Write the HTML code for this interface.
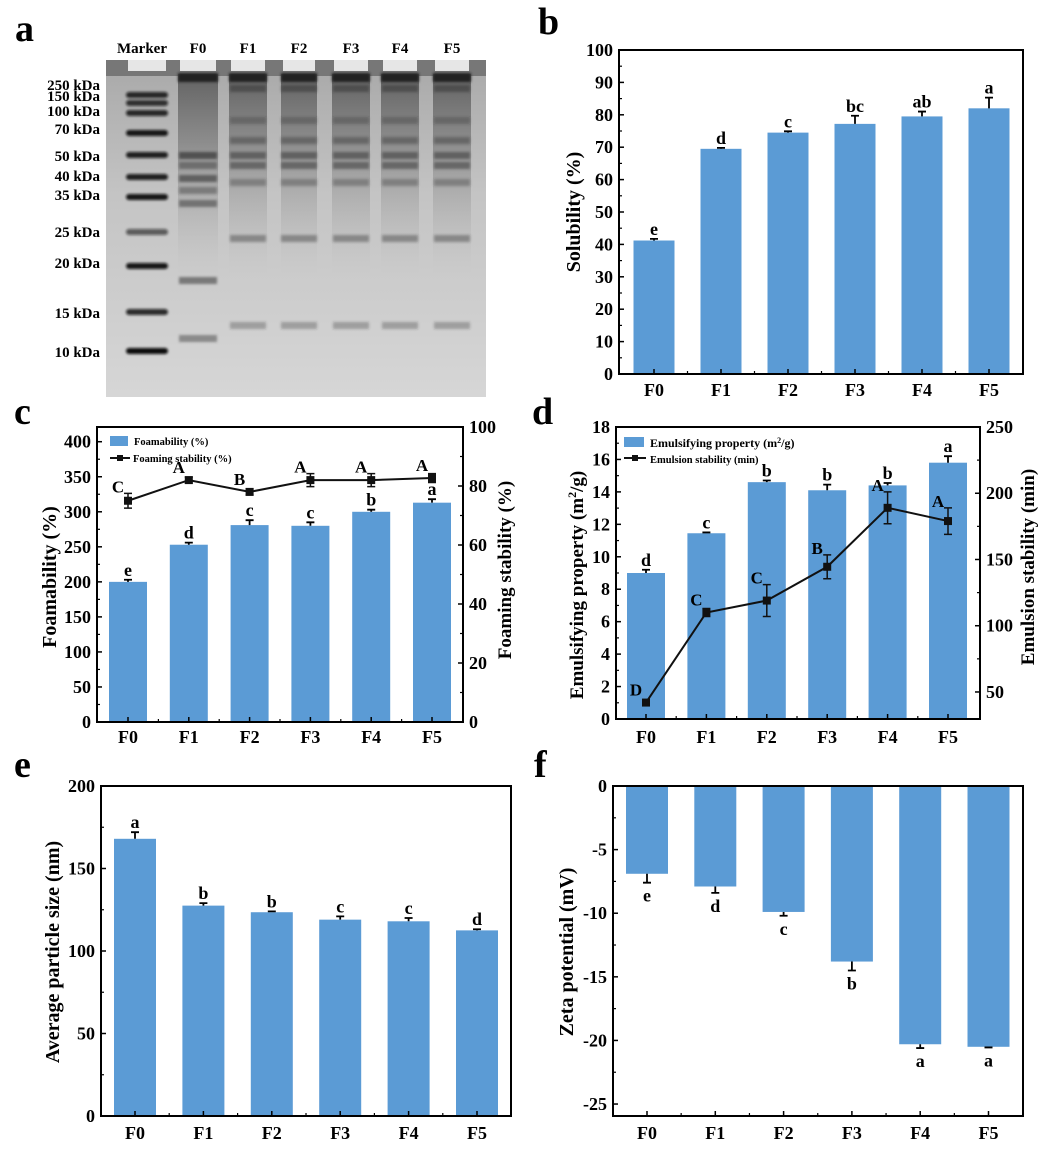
<!DOCTYPE html>
<html><head><meta charset="utf-8">
<style>
html,body{margin:0;padding:0;background:#fff;}
svg{display:block;font-family:"Liberation Serif",serif;font-weight:bold;}
</style></head>
<body>
<svg id="fig" width="1046" height="1152" viewBox="0 0 1046 1152" xmlns="http://www.w3.org/2000/svg">
<defs>
<filter id="blur1" x="-20%" y="-50%" width="140%" height="200%"><feGaussianBlur stdDeviation="1.3"/></filter>
<linearGradient id="gelbg" x1="0" y1="0" x2="0" y2="1">
<stop offset="0" stop-color="#a8a8a8"/><stop offset="0.4" stop-color="#c4c4c4"/><stop offset="1" stop-color="#d6d6d6"/></linearGradient>
<linearGradient id="smear" x1="0" y1="0" x2="0" y2="1">
<stop offset="0" stop-color="#555" stop-opacity="0.85"/><stop offset="0.35" stop-color="#707070" stop-opacity="0.6"/><stop offset="0.7" stop-color="#999" stop-opacity="0.3"/><stop offset="1" stop-color="#bbb" stop-opacity="0"/></linearGradient>
</defs>
<g id="gel"></g>
<g id="pb"></g>
<g id="pc"></g>
<g id="pd"></g>
<g id="pe"></g>
<g id="pf"></g>
</svg>
<script>
const categories = ["F0","F1","F2","F3","F4","F5"];
// b
const solubility = [41.2, 69.5, 74.5, 77.2, 79.5, 82.0];
const solubilityErr = [0.5, 0.3, 0.4, 2.5, 1.5, 3.3];
const solubilityLetters = ["e","d","c","bc","ab","a"];
const solubilityTicks = [0,10,20,30,40,50,60,70,80,90,100];
// c
const foamability = [200, 253, 281, 280, 300, 313];
const foamabilityErr = [3, 3, 7, 5, 3, 5];
const foamabilityLetters = ["e","d","c","c","b","a"];
const foamStability = [75, 82, 78, 82, 82, 82.7];
const foamStabilityErr = [2.5, 1, 1, 2.2, 2.2, 1.5];
const foamStabilityLetters = ["C","A","B","A","A","A"];
const foamTicksLeft = [0,50,100,150,200,250,300,350,400];
const foamTicksRight = [0,20,40,60,80,100];
// d
const emulsifying = [9.0, 11.45, 14.6, 14.1, 14.4, 15.8];
const emulsifyingErr = [0.2, 0.05, 0.1, 0.35, 0.15, 0.4];
const emulsifyingLetters = ["d","c","b","b","b","a"];
const emulsionStability = [42, 110, 119, 144.5, 189, 179];
const emulsionStabilityErr = [1.5, 3, 12, 9, 12, 10];
const emulsionStabilityLetters = ["D","C","C","B","A","A"];
const emulTicksLeft = [0,2,4,6,8,10,12,14,16,18];
const emulTicksRight = [50,100,150,200,250];
// e
const particleSize = [168, 127.5, 123.5, 119, 118, 112.5];
const particleSizeErr = [4, 1.5, 0.5, 2, 2, 0.7];
const particleLetters = ["a","b","b","c","c","d"];
const particleTicks = [0,50,100,150,200];
// f
const zeta = [-6.9, -7.9, -9.9, -13.8, -20.3, -20.5];
const zetaErr = [0.7, 0.5, 0.3, 0.7, 0.3, 0.05];
const zetaLetters = ["e","d","c","b","a","a"];
const zetaTicks = [0,-5,-10,-15,-20,-25];
// gel
const markerLabels = ["250 kDa","150 kDa","100 kDa","70 kDa","50 kDa","40 kDa","35 kDa","25 kDa","20 kDa","15 kDa","10 kDa"];
const laneLabels = ["Marker","F0","F1","F2","F3","F4","F5"];

const NS = "http://www.w3.org/2000/svg";
const BLUE = "#5b9bd5";
function el(parent, tag, attrs, text){
  const e = document.createElementNS(NS, tag);
  for (const k in attrs) e.setAttribute(k, attrs[k]);
  if (text !== undefined) e.textContent = text;
  parent.appendChild(e);
  return e;
}
function linY(dmin,dmax,top,bottom){ return v => bottom - (v-dmin)/(dmax-dmin)*(bottom-top); }

function frame(g, c){
  const f = el(g,"rect",{x:c.left,y:c.top,width:c.right-c.left,height:c.bottom-c.top,fill:"none",stroke:"#000","stroke-width":2});
  
  
}
function leftAxis(g, c, ys, ticks, minorStep, fmt){
  ticks.forEach(t=>{
    const y = ys(t);
    const tk = el(g,"line",{x1:c.left,x2:c.left+5,y1:y,y2:y,stroke:"#000","stroke-width":1.5});
    
    
    const lb = el(g,"text",{x:c.left-6,y:y+6,"text-anchor":"end","font-size":18},fmt?fmt(t):String(t));
    
    
    if (minorStep){
      const ym = ys(t+minorStep);
      if (ym>c.top+1 && ym<c.bottom-1){
        const mk = el(g,"line",{x1:c.left,x2:c.left+3,y1:ym,y2:ym,stroke:"#000","stroke-width":1.2});
        
        
      }
    }
  });
}
function rightAxis(g, c, ys, ticks, minorStep){
  ticks.forEach(t=>{
    const y = ys(t);
    const tk = el(g,"line",{x1:c.right-5,x2:c.right,y1:y,y2:y,stroke:"#000","stroke-width":1.5});
    
    
    const lb = el(g,"text",{x:c.right+6,y:y+6,"text-anchor":"start","font-size":18},String(t));
    
    
    const ym = ys(t+minorStep);
    if (ym>c.top+1 && ym<c.bottom-1){
      const mk = el(g,"line",{x1:c.right-3,x2:c.right,y1:ym,y2:ym,stroke:"#000","stroke-width":1.2});
      
      
    }
  });
}
function xAxis(g, c, xs, labelY){
  categories.forEach((cat,i)=>{
    const x = xs(i);
    const tk = el(g,"line",{x1:x,x2:x,y1:c.bottom,y2:c.bottom-5,stroke:"#000","stroke-width":1.5});
    
    
    if (i<categories.length-1){
      const mx = x + (xs(1)-xs(0))/2;
      const mk = el(g,"line",{x1:mx,x2:mx,y1:c.bottom,y2:c.bottom-3,stroke:"#000","stroke-width":1.2});
      
      
    }
    const lb = el(g,"text",{x:x,y:labelY,"text-anchor":"middle","font-size":18},cat);
    
    
  });
}
function yTitle(g, x, y, text, size){
  const t = el(g,"text",{x:0,y:0,"text-anchor":"middle","font-size":size||20,transform:`translate(${x},${y}) rotate(-90)`});
  
  
  return t;
}
function panelLetter(g,x,y,s){
  const t = el(g,"text",{x:x,y:y,"font-size":38},s);
  
  
}
function bars(g, c, xs, ys, vals, errs, letters, bw, below){
  vals.forEach((v,i)=>{
    const x = xs(i);
    const y0 = ys(0), y1 = ys(v);
    const r = el(g,"rect",{x:x-bw/2,y:Math.min(y0,y1),width:bw,height:Math.abs(y1-y0),fill:BLUE});
    
    
    const ye = below ? ys(v-errs[i]) : ys(v+errs[i]);
    const eb = el(g,"path",{d:`M${x},${y1}V${ye}M${x-4},${ye}H${x+4}`,stroke:"#000","stroke-width":1.8,fill:"none"});
    
    
    const ly = below ? ye+19 : ye-4;
    const lt = el(g,"text",{x:x,y:ly,"text-anchor":"middle","font-size":18},letters[i]);
    
    
  });
}
function line(g, xs, ys, vals, errs, letters){
  const d = vals.map((v,i)=>(i?"L":"M")+xs(i)+","+ys(v)).join("");
  const p = el(g,"path",{d:d,stroke:"#111","stroke-width":2,fill:"none"});
  
  
  vals.forEach((v,i)=>{
    const x=xs(i), y=ys(v), yt=ys(v+errs[i]), yb=ys(v-errs[i]);
    const eb = el(g,"path",{d:`M${x},${yt}V${yb}M${x-4},${yt}H${x+4}M${x-4},${yb}H${x+4}`,stroke:"#111","stroke-width":1.5,fill:"none"});
    
    
    const m = el(g,"rect",{x:x-4,y:y-4,width:8,height:8,fill:"#111"});
    
    
    const lt = el(g,"text",{x:x-10,y:Math.min(yt,y-6)-1,"text-anchor":"middle","font-size":17},letters[i]);
    
    
  });
}

// ---------- panel b ----------
(function(){
  const g = document.getElementById("pb");
  const c = {left:619,right:1023,top:50,bottom:374};
  const ys = linY(0,100,c.top,c.bottom);
  const xs = i => 654 + i*67;
  bars(g,c,xs,ys,solubility,solubilityErr,solubilityLetters,41,false);
  frame(g,c);
  leftAxis(g,c,ys,solubilityTicks,5);
  xAxis(g,c,xs,396);
  yTitle(g,580,212).textContent="Solubility (%)";
  panelLetter(g,538,34,"b");
})();

// ---------- panel c ----------
(function(){
  const g = document.getElementById("pc");
  const c = {left:97,right:463,top:427,bottom:722};
  const ys = linY(0,421,c.top,c.bottom);
  const ys2 = linY(0,100,c.top,c.bottom);
  const xs = i => 128 + i*60.8;
  bars(g,c,xs,ys,foamability,foamabilityErr,foamabilityLetters,38,false);
  line(g,xs,ys2,foamStability,foamStabilityErr,foamStabilityLetters);
  frame(g,c);
  leftAxis(g,c,ys,foamTicksLeft,25);
  rightAxis(g,c,ys2,foamTicksRight,10);
  xAxis(g,c,xs,743);
  yTitle(g,56,577).textContent="Foamability (%)";
  yTitle(g,511,570,"",19).textContent="Foaming stability (%)";
  const lg = el(g,"g",{});
  
  
  const r = el(lg,"rect",{x:110,y:436,width:18,height:10,fill:BLUE});
  
  
  const t1 = el(lg,"text",{x:134,y:445,"font-size":10.5},"Foamability (%)");
  
  
  const l = el(lg,"path",{d:"M110,458H130",stroke:"#111","stroke-width":2});
  
  
  el(lg,"rect",{x:117,y:455,width:6,height:6,fill:"#111"});
  const t2 = el(lg,"text",{x:133,y:462,"font-size":10.5},"Foaming stability (%)");
  
  
  panelLetter(g,14,424,"c");
})();

// ---------- panel d ----------
(function(){
  const g = document.getElementById("pd");
  const c = {left:616,right:980,top:427,bottom:719};
  const ys = linY(0,18,c.top,c.bottom);
  const ys2 = linY(29.6,250,c.top,c.bottom);
  const xs = i => 646 + i*60.4;
  bars(g,c,xs,ys,emulsifying,emulsifyingErr,emulsifyingLetters,38,false);
  line(g,xs,ys2,emulsionStability,emulsionStabilityErr,emulsionStabilityLetters);
  frame(g,c);
  leftAxis(g,c,ys,emulTicksLeft,1);
  rightAxis(g,c,ys2,emulTicksRight,25);
  xAxis(g,c,xs,743);
  const t = yTitle(g,583,585,"",19);
  t.innerHTML = 'Emulsifying property (m<tspan dy="-7" font-size="12">2</tspan><tspan dy="7">/g)</tspan>';
  yTitle(g,1034,567,"",19).textContent="Emulsion stability (min)";
  const lg = el(g,"g",{});
  
  
  const r = el(lg,"rect",{x:624,y:437,width:20,height:10,fill:BLUE});
  
  
  const t1 = el(lg,"text",{x:650,y:447,"font-size":12});
  t1.innerHTML='Emulsifying property (m<tspan dy="-4" font-size="8">2</tspan><tspan dy="4">/g)</tspan>';
  
  
  const l = el(lg,"path",{d:"M624,458H646",stroke:"#111","stroke-width":2});
  
  
  el(lg,"rect",{x:632,y:455,width:6,height:6,fill:"#111"});
  const t2 = el(lg,"text",{x:650,y:463,"font-size":10.5},"Emulsion stability (min)");
  
  
  panelLetter(g,532,424,"d");
})();

// ---------- panel e ----------
(function(){
  const g = document.getElementById("pe");
  const c = {left:101,right:511,top:786,bottom:1116};
  const ys = linY(0,200,c.top,c.bottom);
  const xs = i => 135 + i*68.4;
  bars(g,c,xs,ys,particleSize,particleSizeErr,particleLetters,42,false);
  frame(g,c);
  leftAxis(g,c,ys,particleTicks,25);
  xAxis(g,c,xs,1139);
  yTitle(g,59,952).textContent="Average particle size (nm)";
  panelLetter(g,14,777,"e");
})();

// ---------- panel f ----------
(function(){
  const g = document.getElementById("pf");
  const c = {left:613,right:1023,top:786,bottom:1116};
  const ys = linY(-25.94,0,c.top,c.bottom);
  const xs = i => 647 + i*68.3;
  bars(g,c,xs,ys,zeta,zetaErr,zetaLetters,42,true);
  frame(g,c);
  leftAxis(g,c,ys,zetaTicks,-2.5);
  xAxis(g,c,xs,1139);
  yTitle(g,573,952).textContent="Zeta potential (mV)";
  panelLetter(g,534,777,"f");
})();

// ---------- gel ----------
(function(){
  const g = document.getElementById("gel");
  const bg = el(g,"rect",{x:106,y:60,width:380,height:337,fill:"url(#gelbg)"});
  
  
  el(g,"rect",{x:106,y:60,width:380,height:16,fill:"#777"});
  const laneX = [147,198,248,299,351,400,452];
  const laneW = [42,40,38,36,38,38,38];
  laneX.forEach((x,i)=>{
    el(g,"rect",{x:x-laneW[i]/2+2,y:60,width:laneW[i]-4,height:11,fill:"#e6e6e6"});
    const lab = el(g,"text",{x:i===0?142:x,y:53,"text-anchor":"middle","font-size":15},laneLabels[i]);
    
    
    if (i>0){
      const sm = el(g,"rect",{x:x-laneW[i]/2,y:74,width:laneW[i],height:200,fill:"url(#smear)"});
      
      
      el(g,"rect",{x:x-laneW[i]/2,y:73,width:laneW[i],height:9,fill:"#202020",filter:"url(#blur1)"});
    }
  });
  // marker bands
  const markerY = [95,103,113,133,155,177,197,232,266,312,351];
  const markerDark = [0.85,0.8,0.85,0.95,0.9,0.9,0.95,0.6,0.95,0.85,1];
  markerY.forEach((y,i)=>{
    const b = el(g,"rect",{x:126,y:y-3,width:42,height:6,rx:3,fill:"#111","fill-opacity":markerDark[i],filter:"url(#blur1)"});
    
    
    const t = el(g,"text",{x:100,y:[90,101,116,134,161,181,200,237,268,318,357][i],"text-anchor":"end","font-size":15},markerLabels[i]);
    
    
  });
  // F0 bands
  [[155,0.7],[165,0.45],[178,0.6],[190,0.4],[203,0.5],[280,0.55],[338,0.45]].forEach(([y,o])=>{
    el(g,"rect",{x:179,y:y-3,width:38,height:7,fill:"#333","fill-opacity":o,filter:"url(#blur1)"});
  });
  // F1-F5 bands
  laneX.slice(2).forEach(x=>{
    [[88,0.5],[120,0.3],[140,0.4],[155,0.55],[165,0.5],[182,0.35],[238,0.4],[325,0.3]].forEach(([y,o])=>{
      el(g,"rect",{x:x-18,y:y-3,width:36,height:7,fill:"#333","fill-opacity":o,filter:"url(#blur1)"});
    });
  });
  const pl = el(g,"text",{x:15,y:41,"font-size":38},"a");
  
  
})();
</script>
</body></html>
